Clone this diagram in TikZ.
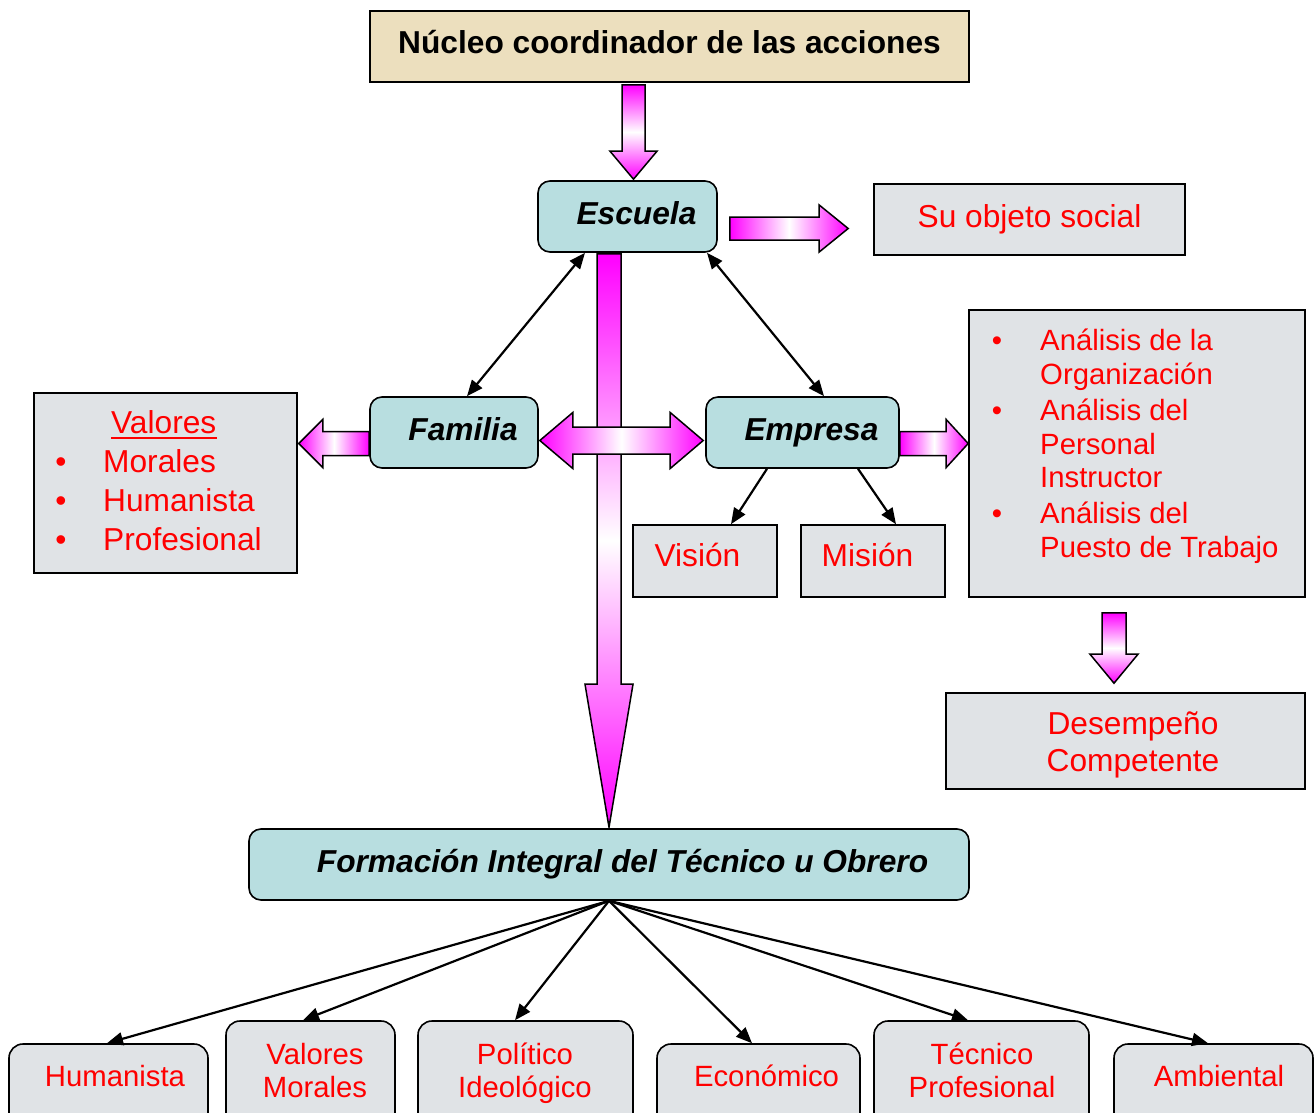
\documentclass[tikz,border=0pt]{standalone}
\usepackage{fontspec}
\setmainfont{Liberation Sans}
\usetikzlibrary{calc,arrows.meta}
\definecolor{mag}{RGB}{255,0,255}
\definecolor{tealfill}{RGB}{184,222,224}
\definecolor{beigefill}{RGB}{236,223,190}
\definecolor{marblefill}{RGB}{224,227,230}
\definecolor{redtxt}{RGB}{255,0,0}
\newcommand{\fsz}{\fontsize{31.7}{36}\selectfont}
\newcommand{\fsm}{\fontsize{29.3}{34}\selectfont}
\pgfdeclarelayer{bg}
\pgfsetlayers{bg,main}
% single block arrow: #1 start, #2 tip, #3 half shaft, #4 half head, #5 head length, #6 style
\newcommand{\blockarrow}[6]{%
  \coordinate (ba-h) at ($(#2)!#5pt!(#1)$);
  \path[#6] ($(#1)!#3pt!90:(#2)$) -- ($(ba-h)!#3pt!90:(#2)$) -- ($(ba-h)!#4pt!90:(#2)$)
    -- (#2) -- ($(ba-h)!#4pt!-90:(#2)$) -- ($(ba-h)!#3pt!-90:(#2)$) -- ($(#1)!#3pt!-90:(#2)$) -- cycle;}
% double block arrow
\newcommand{\dblockarrow}[6]{%
  \coordinate (ba-hA) at ($(#2)!#5pt!(#1)$);
  \coordinate (ba-hB) at ($(#1)!#5pt!(#2)$);
  \path[#6] (#1) -- ($(ba-hB)!#4pt!90:(#2)$) -- ($(ba-hB)!#3pt!90:(#2)$) -- ($(ba-hA)!#3pt!90:(#2)$)
    -- ($(ba-hA)!#4pt!90:(#2)$) -- (#2) -- ($(ba-hA)!#4pt!-90:(#2)$) -- ($(ba-hA)!#3pt!-90:(#2)$)
    -- ($(ba-hB)!#3pt!-90:(#2)$) -- ($(ba-hB)!#4pt!-90:(#2)$) -- cycle;}
\begin{document}
\begin{tikzpicture}[x=1pt,y=-1pt,
  box/.style={draw=black, line width=1.6pt, inner sep=0pt, text height=19pt, text depth=4pt, font=\fsz},
  tealbox/.style={box, fill=tealfill, rounded corners=12pt, font=\fsz\bfseries\itshape},
  marblebox/.style={box, fill=marblefill, text=redtxt},
  roundmarble/.style={marblebox, rounded corners=14pt},
  rtext/.style={text=redtxt, font=\fsz, inner sep=0pt},
  rsmall/.style={rtext, font=\fsm},
  thinarrow/.style={line width=2.2pt, -{Triangle[length=16pt,width=13pt]}},
  thinboth/.style={line width=2.2pt, {Triangle[length=16pt,width=13pt]}-{Triangle[length=16pt,width=13pt]}},
  barrowV/.style={draw=black, line width=1.5pt, top color=mag, bottom color=mag, middle color=white},
  barrowH/.style={draw=black, line width=1.5pt, left color=mag, right color=mag, middle color=white},
]
\useasboundingbox (0,0) rectangle (1314,1113);
\clip (0,0) rectangle (1314,1113);
\begin{pgfonlayer}{bg}
\fill[white] (0,0) rectangle (1314,1113);
\end{pgfonlayer}

% boxes
\node[box, fill=beigefill, minimum width=599pt, minimum height=71pt, font=\fsz\bfseries] (nuc) at (669.5,46.5) {Núcleo coordinador de las acciones};
\node[tealbox, minimum width=179pt, minimum height=71pt] (esc) at (627.5,216.5) {\hspace*{18pt}Escuela};
\node[marblebox, minimum width=311pt, minimum height=71pt] (obj) at (1029.5,219.5) {Su objeto social};
\node[tealbox, minimum width=168pt, minimum height=71pt] (fam) at (454,432.5) {\hspace*{18pt}Familia};
\node[tealbox, minimum width=193pt, minimum height=71pt] (emp) at (802.5,432.5) {\hspace*{18pt}Empresa};
\node[marblebox, minimum width=263pt, minimum height=180pt] (val) at (165.5,483) {};
\node[marblebox, minimum width=336pt, minimum height=287pt] (ana) at (1137,453.5) {};
\node[marblebox, minimum width=144pt, minimum height=72pt] (vis) at (705,561) {};
\node[marblebox, minimum width=144pt, minimum height=72pt] (mis) at (873,561) {};
\node[marblebox, minimum width=359pt, minimum height=96pt] (des) at (1125.5,741) {};
\node[tealbox, minimum width=720pt, minimum height=71pt] (form) at (609,864.5) {\hspace*{27pt}Formación Integral del Técnico u Obrero};
\node[roundmarble, minimum width=199pt, minimum height=91pt] (b1) at (108.5,1089.5) {};
\node[roundmarble, minimum width=169pt, minimum height=114pt] (b2) at (310.5,1078) {};
\node[roundmarble, minimum width=215pt, minimum height=114pt] (b3) at (525.5,1078) {};
\node[roundmarble, minimum width=203pt, minimum height=91pt] (b4) at (758.5,1089.5) {};
\node[roundmarble, minimum width=215pt, minimum height=114pt] (b5) at (981.5,1078) {};
\node[roundmarble, minimum width=199pt, minimum height=91pt] (b6) at (1213.5,1089.5) {};

% texts
\node[rtext, anchor=base west] (v0) at (111,433) {Valores};
\draw[redtxt, line width=2pt] ($(v0.base west)+(0,5)$) -- ($(v0.base east)+(0,5)$);
\node[rtext, anchor=base] (v1b) at (61,472) {•};
\node[rtext, anchor=base] (v2b) at (61,511) {•};
\node[rtext, anchor=base] (v3b) at (61,550) {•};
\node[rtext, anchor=base west] (v1) at (103,472) {Morales};
\node[rtext, anchor=base west] (v2) at (103,511) {Humanista};
\node[rtext, anchor=base west] (v3) at (103,550) {Profesional};

\node[rsmall, anchor=base] (a1b) at (997,350) {•};
\node[rsmall, anchor=base] (a2b) at (997,420) {•};
\node[rsmall, anchor=base] (a3b) at (997,523) {•};
\node[rsmall, anchor=base west] (l1) at (1040,350) {Análisis de la};
\node[rsmall, anchor=base west] (l2) at (1040,384) {Organización};
\node[rsmall, anchor=base west] (l3) at (1040,420) {Análisis del};
\node[rsmall, anchor=base west] (l4) at (1040,454) {Personal};
\node[rsmall, anchor=base west] (l5) at (1040,487) {Instructor};
\node[rsmall, anchor=base west] (l6) at (1040,523) {Análisis del};
\node[rsmall, anchor=base west] (l7) at (1040,557) {Puesto de Trabajo};

\node[rtext, anchor=base] (tvis) at (697.5,566) {Visión};
\node[rtext, anchor=base] (tmis) at (867.5,566) {Misión};
\node[rtext, anchor=base] (tdes1) at (1133,734) {Desempeño};
\node[rtext, anchor=base] (tdes2) at (1133,771) {Competente};

\node[rsmall, anchor=base] (t1) at (115,1086) {Humanista};
\node[rsmall, anchor=base] (t2a) at (315,1064) {Valores};
\node[rsmall, anchor=base] (t2b) at (315,1097) {Morales};
\node[rsmall, anchor=base] (t3a) at (525,1064) {Político};
\node[rsmall, anchor=base] (t3b) at (525,1097) {Ideológico};
\node[rsmall, anchor=base] (t4) at (766.5,1086) {Económico};
\node[rsmall, anchor=base] (t5a) at (982,1064) {Técnico};
\node[rsmall, anchor=base] (t5b) at (982,1097) {Profesional};
\node[rsmall, anchor=base] (t6) at (1219,1086) {Ambiental};

% thin connectors
\draw[thinboth] ($(esc.south)+(-42.5,0)$) -- ($(fam.north)+(13,0)$);
\draw[thinboth] ($(esc.south)+(79.5,0)$) -- ($(emp.north)+(21.5,0)$);
\draw[thinarrow] ($(emp.south)+(-35.5,0)$) -- ($(vis.north)+(26,0)$);
\draw[thinarrow] ($(emp.south)+(55.5,0)$) -- ($(mis.north)+(23,0)$);
\draw[thinarrow] (form.south) -- ($(b1.north)+(-1.5,0)$);
\draw[thinarrow] (form.south) -- ($(b2.north)+(-7.5,0)$);
\draw[thinarrow] (form.south) -- ($(b3.north)+(-10.5,0)$);
\draw[thinarrow] (form.south) -- ($(b4.north)+(-6.5,0)$);
\draw[thinarrow] (form.south) -- ($(b5.north)+(-13.5,0)$);
\draw[thinarrow] (form.south) -- ($(b6.north)+(-5.5,0)$);

% block arrows
\coordinate (a1t) at ($(esc.north)+(6,-1)$);
\coordinate (a1p) at (a1t |- nuc.south);
\coordinate (a1s) at ($(a1p)+(0,2)$);
\coordinate (a2s) at ($(esc.east)+(12,12)$);
\coordinate (a2t) at ($(obj.west)+(-25,9)$);
\coordinate (a3t) at ($(form.north)+(0,-1)$);
\coordinate (a3p) at (a3t |- esc.south);
\coordinate (a3s) at ($(a3p)+(0,1)$);
\coordinate (a4s) at ($(fam.east)+(1,8)$);
\coordinate (a4t) at ($(emp.west)+(-2,8)$);
\coordinate (a5s) at ($(fam.west)+(0,11)$);
\coordinate (a5t) at ($(val.east)+(1,-39.5)$);
\coordinate (a6s) at ($(emp.east)+(0,11)$);
\coordinate (a6t) at ($(ana.west)+(0,-10)$);
\coordinate (a7t) at ($(des.north)+(-11.5,-9)$);
\coordinate (a7p) at (a7t |- ana.south);
\coordinate (a7s) at ($(a7p)+(0,15)$);
\begin{pgfonlayer}{bg}
\blockarrow{a1s}{a1t}{11.5}{23.5}{28}{barrowV}
\blockarrow{a2s}{a2t}{11.5}{23.5}{29}{barrowH}
\blockarrow{a3s}{a3t}{12}{24}{143}{barrowV}
\dblockarrow{a4s}{a4t}{13.5}{28}{33}{barrowH}
\blockarrow{a5s}{a5t}{12}{24}{24}{barrowH}
\blockarrow{a6s}{a6t}{12}{24}{22}{barrowH}
\blockarrow{a7s}{a7t}{12}{24}{29}{barrowV}
\end{pgfonlayer}
\end{tikzpicture}
\end{document}
